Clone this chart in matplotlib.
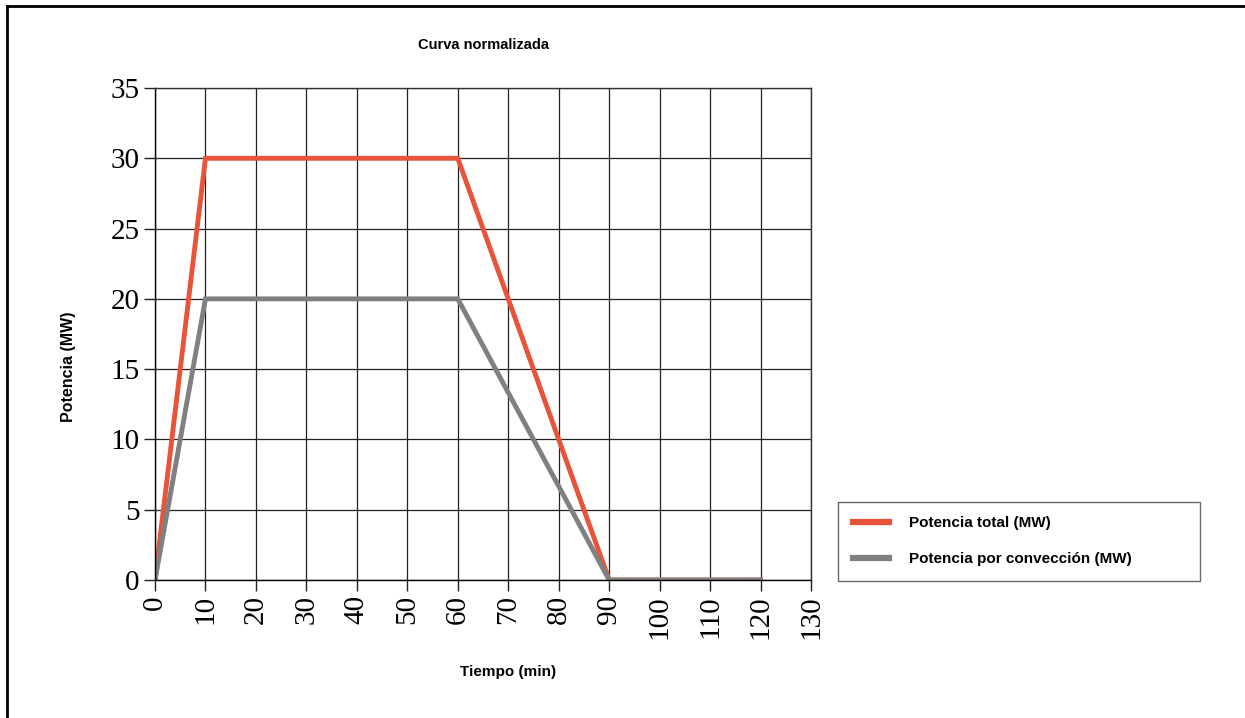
import matplotlib.pyplot as plt
from matplotlib.lines import Line2D

# curva normalizada de potencia (MW) frente al tiempo (min)
tiempo = [0, 10, 20, 30, 40, 50, 60, 70, 80, 90, 100, 110, 120]
pot_total = [0, 30, 30, 30, 30, 30, 30, 20, 10, 0, 0, 0, 0]
pot_conv = [0, 20, 20, 20, 20, 20, 20, 13.33, 6.67, 0, 0, 0, 0]

xticks = list(range(0, 131, 10))
yticks = list(range(0, 36, 5))

c_total = "#E8533A"
c_conv = "#808080"

fig = plt.figure(figsize=(12.45, 7.18), dpi=100)
ax = fig.add_axes([155 / 1245, 1 - 580 / 718, 656 / 1245, 492 / 718])

ax.plot(tiempo, pot_total, color=c_total, lw=3.5, solid_joinstyle="miter")
ax.plot(tiempo, pot_conv, color=c_conv, lw=3.5, solid_joinstyle="miter")

ax.set_xlim(0, 130)
ax.set_ylim(0, 35)
ax.set_xticks(xticks)
ax.set_yticks(yticks)
ax.set_xticklabels([str(t) for t in xticks], rotation=90,
                   family="Liberation Serif", fontsize=21)
ax.set_yticklabels([str(t) for t in yticks],
                   family="Liberation Serif", fontsize=21)
ax.tick_params(direction="out", length=8, width=1, color="#222222", pad=3)
ax.grid(True, color="#222222", lw=0.9)
ax.set_axisbelow(True)
for s in ax.spines.values():
    s.set_color("#333333")
    s.set_linewidth(1.0)
ax.spines["left"].set_color("black")
ax.spines["bottom"].set_color("black")

txt = {"family": "Liberation Sans", "fontweight": "bold"}
fig.text(483 / 1245, 1 - 45 / 718, "Curva normalizada", ha="center", va="center",
         fontsize=10.5, **txt)
fig.text(508 / 1245, 1 - 672 / 718, "Tiempo (min)", ha="center", va="center",
         fontsize=11, **txt)
fig.text(68 / 1245, 1 - 367 / 718, "Potencia (MW)", ha="center", va="center",
         rotation=90, fontsize=11.5, **txt)

handles = [Line2D([], [], color=c_total, lw=4.5),
           Line2D([], [], color=c_conv, lw=4.5)]
leg = fig.legend(handles, ["Potencia total (MW)", "Potencia por convección (MW)"],
                 loc="lower left", mode="expand",
                 bbox_to_anchor=(838 / 1245, 1 - 581 / 718, 362 / 1245, 79 / 718),
                 frameon=True, fancybox=False, handlelength=2.4, handletextpad=1.3,
                 borderpad=0.95, labelspacing=1.45, borderaxespad=0,
                 prop={"family": "Liberation Sans", "size": 11, "weight": "bold"})
leg.get_frame().set_edgecolor("#444444")
leg.get_frame().set_linewidth(1.0)

# marco exterior: izquierda y arriba
fig.add_artist(Line2D([7 / 1245, 7 / 1245], [0, 1 - 6 / 718], color="black", lw=2,
                      transform=fig.transFigure))
fig.add_artist(Line2D([7 / 1245, 1], [1 - 6 / 718, 1 - 6 / 718], color="black", lw=2,
                      transform=fig.transFigure))

fig.savefig("out.png", dpi=100)
